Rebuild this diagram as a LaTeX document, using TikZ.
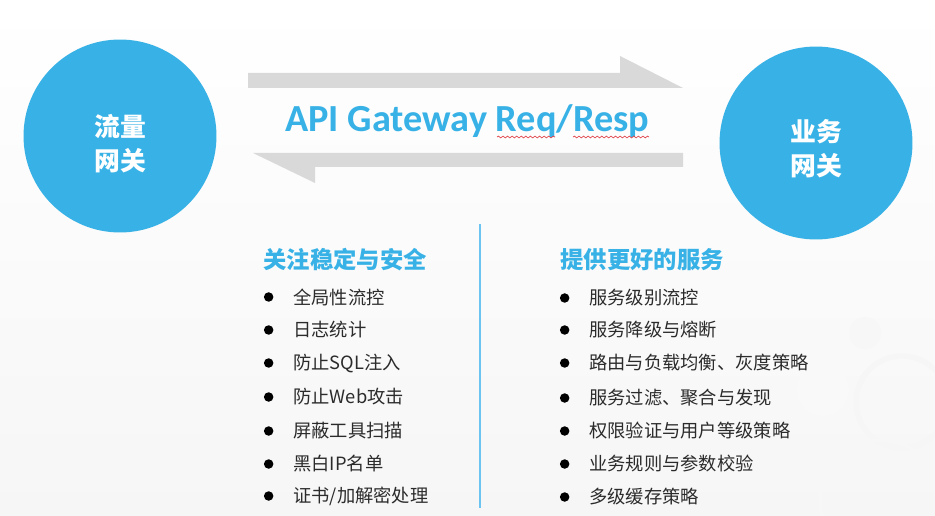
\documentclass[tikz,border=0pt]{standalone}
\usepackage{fontspec}
\setmainfont{Carlito}
\newfontfamily\cjk{Noto Sans CJK SC}
\usepackage{xcolor}
\usetikzlibrary{positioning, decorations.pathmorphing}

\definecolor{gwblue}{HTML}{38B2E6}
\definecolor{arrowgray}{HTML}{D9D9D9}
\definecolor{itemgray}{HTML}{2B2B2B}
\definecolor{lineblue}{HTML}{6CC4F0}
\definecolor{spellred}{HTML}{E0474C}

\begin{document}
\begin{tikzpicture}[
    x=0.02cm, y=-0.02cm,
    gateway/.style={circle, fill=gwblue, minimum size=3.86cm, inner sep=0pt},
    gwtext/.style={inner sep=0pt, text=white, align=center, font=\cjk\bfseries\fontsize{14.7}{19.3}\selectfont},
    title/.style={anchor=base west, inner sep=0pt, text=gwblue, font=\bfseries\fontsize{21.8}{26}\selectfont},
    heading/.style={anchor=west, inner sep=0pt, text=gwblue, font=\cjk\bfseries\fontsize{13.3}{16}\selectfont},
    item/.style={anchor=west, inner sep=0pt, text=itemgray, font=\cjk\fontsize{10.4}{13}\selectfont,
        label={[circle, fill=black, inner sep=0pt, minimum size=0.19cm, xshift=-0.385cm]left:{}}},
    spell/.style={spellred, line width=0.4pt, decorate, decoration={snake, amplitude=0.5pt, segment length=2.6pt}}
]
    % Page and faint background rings
    \useasboundingbox (0,0) rectangle (935,516);
    \fill[top color=white, bottom color=gray!7] (0,0) rectangle (935,516);
    \fill[gray!6] (865,333) circle (16);
    \fill[gray!5] (823,390) circle (26);
    \draw[gray!7, line width=3pt] (902,402) circle (46);
    \draw[gray!6, line width=2pt] (880,500) circle (60);

    % Gateways
    \node[gateway] (traffic) at (120,136) {};
    \node[gwtext] (trafficname) at ([yshift=-0.16cm]traffic.center) {流量\\网关};
    \node[gateway] (business) at (816,143) {};
    \node[gwtext] (businessname) at ([yshift=-0.12cm]business.center) {业务\\网关};

    % Request / response arrows
    \fill[arrowgray] (248,73) -- (620,73) -- (620,56) -- (683,88) -- (248,88) -- cycle;
    \fill[arrowgray] (683,153) -- (253,153) -- (315,183) -- (315,167) -- (683,167) -- cycle;

    \node[title] (api) at (285,132) {API Gateway Req/Resp};
    % spell-check underline
    \draw[spell] (497,137) -- (555,137);
    \draw[spell] (573,137) -- (649,137);

    % Divider
    \draw[lineblue, line width=1.2pt] (480,224) -- (480,508);

    % Traffic gateway duties
    \node[heading] (safety) at (263,260) {关注稳定与安全};
    \node[item] (t1) at (293,297) {全局性流控};
    \node[item] (t2) at (293,330) {日志统计};
    \node[item] (t3) at (293,363) {防止SQL注入};
    \node[item] (t4) at (293,397) {防止Web攻击};
    \node[item] (t5) at (293,431) {屏蔽工具扫描};
    \node[item] (t6) at (293,464) {黑白IP名单};
    \node[item] (t7) at (293,496) {证书/加解密处理};

    % Business gateway duties
    \node[heading] (service) at (560,260) {提供更好的服务};
    \node[item] (b1) at (589,298) {服务级别流控};
    \node[item] (b2) at (589,330) {服务降级与熔断};
    \node[item] (b3) at (589,363) {路由与负载均衡、灰度策略};
    \node[item] (b4) at (589,398) {服务过滤、聚合与发现};
    \node[item] (b5) at (589,431) {权限验证与用户等级策略};
    \node[item] (b6) at (589,464) {业务规则与参数校验};
    \node[item] (b7) at (589,497) {多级缓存策略};

\end{tikzpicture}
\end{document}
